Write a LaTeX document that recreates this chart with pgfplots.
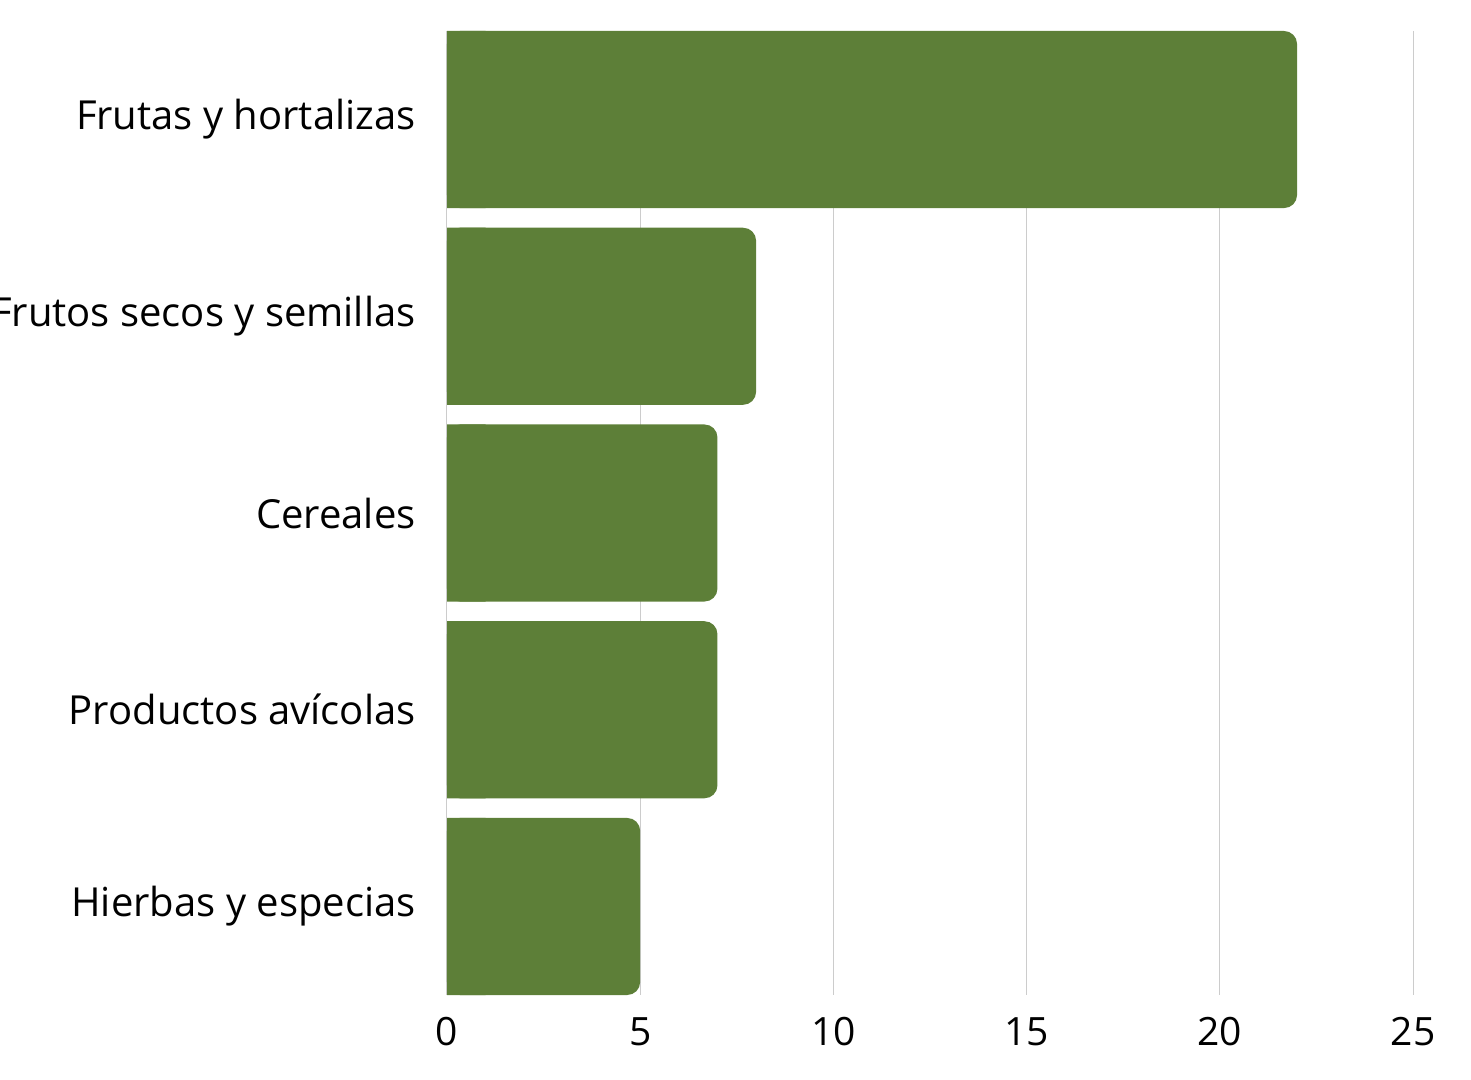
\documentclass[border=0pt]{standalone}
\usepackage{pgfplots}
\pgfplotsset{compat=1.18}
\usepackage{fontspec}
\setmainfont{Open Sans}
\definecolor{barg}{HTML}{5D7F38}
\definecolor{gridg}{HTML}{CCCCCC}
\pgfplotstableread{
val pos
22 0
8 1
7 2
7 3
5 4
}\datatab
\begin{document}
\begin{tikzpicture}
\pgfplotsset{
  common/.style={
    scale only axis,
    height=482pt,
    xmin=0,
    ymin=-0.45, ymax=4.45,
    y dir=reverse,
    xbar,
    bar width=0.9,
  }
}
\begin{axis}[
  name=ax,
  common,
  width=483pt,
  xmax=25,
  xtick={0,5,10,15,20,25},
  ytick={0,1,2,3,4},
  yticklabels={Frutas y hortalizas,Frutos secos y semillas,Cereales,Productos avícolas,Hierbas y especias},
  axis line style={draw=none},
  major tick length=0pt,
  xmajorgrids,
  grid style={gridg, line width=0.5pt},
  /pgf/number format/assume math mode=true,
  yticklabel style={font=\fontsize{20}{24}\selectfont, inner sep=0pt, anchor=east, xshift=-15.5pt},
  xticklabel style={font=\fontsize{19.5}{23}\selectfont, inner sep=0pt, anchor=north, yshift=-11pt},
]
\addplot[fill=barg, draw=none, rounded corners=6.5pt] table[x=val, y=pos] {\datatab};
\end{axis}
\begin{axis}[
  at={(ax.south west)}, anchor=south west,
  common,
  width=19.32pt,
  xmax=1,
  hide axis,
  clip=true,
]
\addplot[fill=barg, draw=none] table[x=val, y=pos] {\datatab};
\end{axis}
\pgfresetboundingbox
\path ([shift={(-223.5pt,-42.5pt)}]ax.south west) rectangle ([shift={(29pt,15.5pt)}]ax.north east);
\end{tikzpicture}
\end{document}
